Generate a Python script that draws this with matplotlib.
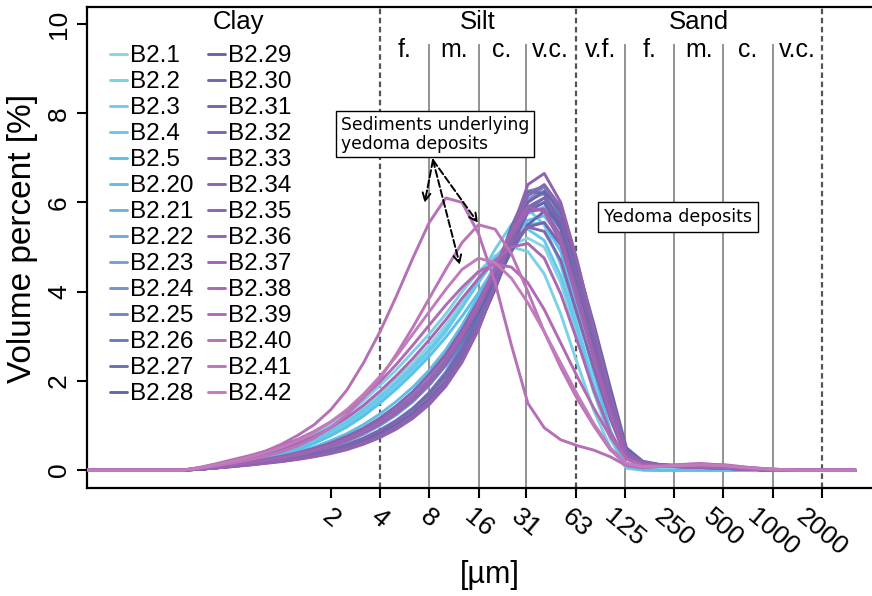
import matplotlib
matplotlib.use("Agg")
import matplotlib.pyplot as plt
import matplotlib.transforms as mtransforms

# ---------------- data ----------------
sizes_um = [0.065, 0.25, 0.315, 0.397, 0.5, 0.63, 0.794, 1.0, 1.26, 1.59, 2.0, 2.52, 3.17,
            4.0, 5.04, 6.35, 8.0, 10.1, 12.7, 16.0, 20.2, 25.4, 32.0, 40.3, 50.8, 64.0,
            80.6, 102, 128, 161, 203, 256, 362, 512, 724, 1024, 1448, 3200]

sample_names = ["B2.1", "B2.2", "B2.3", "B2.4", "B2.5", "B2.20", "B2.21", "B2.22", "B2.23",
                "B2.24", "B2.25", "B2.26", "B2.27", "B2.28", "B2.29", "B2.30", "B2.31",
                "B2.32", "B2.33", "B2.34", "B2.35", "B2.36", "B2.37", "B2.38", "B2.39",
                "B2.40", "B2.41", "B2.42"]

sample_colors = ["#88d4e3", "#7dd0e6", "#72cce8", "#66c8ea", "#58c2ea", "#66bbe6", "#72b2e0",
                 "#77a8da", "#7a9ed3", "#7792cc", "#7385c6", "#6d7bbc", "#6670b5", "#6267ae",
                 "#6a63ad", "#7163ad", "#7864ae", "#7e65ae", "#8366ae", "#8a65b0", "#9063b0",
                 "#9863b1", "#a064b2", "#aa67b3", "#b16bb5", "#b670b7", "#bb76b9", "#c07cbb"]

v_B2_1 = [0,0,0.04,0.1,0.17,0.24,0.32,0.42,0.54,0.7,0.9,1.12,1.4,1.72,2.05,2.4,2.8,3.25,3.75,4.25,4.7,5.05,5.2,5.0,4.2,3.0,1.75,0.7,0.06,0.01,0,0,0,0,0,0,0,0]
v_B2_2 = [0,0,0.05,0.12,0.2,0.28,0.37,0.48,0.62,0.8,1.0,1.25,1.55,1.9,2.25,2.65,3.05,3.5,4.0,4.45,4.8,5.0,4.9,4.4,3.5,2.4,1.35,0.5,0.04,0,0,0,0,0,0,0,0,0]
v_B2_3 = [0,0,0.04,0.09,0.15,0.22,0.3,0.39,0.5,0.64,0.82,1.02,1.27,1.57,1.9,2.25,2.65,3.1,3.65,4.3,4.95,5.5,5.85,5.5,4.6,3.3,1.95,0.8,0.08,0.01,0,0,0,0,0,0,0,0]
v_B2_4 = [0,0,0.04,0.1,0.16,0.23,0.31,0.41,0.53,0.68,0.87,1.08,1.34,1.64,1.97,2.32,2.7,3.15,3.65,4.2,4.75,5.2,5.4,5.15,4.35,3.15,1.85,0.75,0.07,0.01,0,0,0,0,0,0,0,0]
v_B2_5 = [0,0,0.03,0.08,0.14,0.2,0.27,0.36,0.46,0.6,0.77,0.97,1.21,1.5,1.82,2.17,2.55,2.98,3.45,3.98,4.55,5.1,5.5,5.55,4.9,3.6,2.2,0.9,0.1,0.01,0,0,0,0,0,0,0,0]
v_B2_20 = [0,0,0.03,0.08,0.13,0.19,0.25,0.32,0.41,0.52,0.66,0.82,1.02,1.26,1.54,1.86,2.24,2.7,3.25,3.9,4.6,5.2,5.6,5.7,5.2,4.0,2.7,1.35,0.3,0.15,0.1,0.08,0.06,0.04,0.02,0,0,0]
v_B2_21 = [0,0,0.03,0.07,0.12,0.17,0.23,0.3,0.38,0.48,0.6,0.75,0.93,1.15,1.41,1.72,2.1,2.55,3.1,3.75,4.5,5.2,5.75,5.9,5.4,4.2,2.85,1.45,0.33,0.16,0.11,0.09,0.07,0.04,0.02,0,0,0]
v_B2_22 = [0,0,0.03,0.07,0.12,0.17,0.22,0.28,0.35,0.44,0.55,0.69,0.86,1.07,1.32,1.62,1.98,2.42,2.95,3.6,4.4,5.2,5.85,6.0,5.5,4.3,2.9,1.5,0.35,0.17,0.11,0.09,0.07,0.04,0.02,0,0,0]
v_B2_23 = [0,0,0.02,0.06,0.1,0.15,0.2,0.26,0.33,0.41,0.51,0.64,0.8,1.0,1.24,1.53,1.9,2.35,2.9,3.6,4.45,5.35,6.05,6.2,5.6,4.35,2.95,1.5,0.35,0.17,0.11,0.09,0.07,0.04,0.02,0,0,0]
v_B2_24 = [0,0,0.02,0.06,0.1,0.14,0.19,0.24,0.3,0.38,0.47,0.58,0.72,0.9,1.12,1.39,1.72,2.15,2.7,3.4,4.3,5.25,6.05,6.35,5.85,4.6,3.15,1.65,0.4,0.18,0.12,0.1,0.08,0.05,0.02,0,0,0]
v_B2_25 = [0,0,0.02,0.05,0.09,0.13,0.18,0.23,0.29,0.36,0.45,0.56,0.7,0.88,1.1,1.38,1.74,2.2,2.8,3.55,4.45,5.45,6.25,6.35,5.7,4.4,2.95,1.5,0.35,0.17,0.11,0.09,0.07,0.04,0.02,0,0,0]
v_B2_26 = [0,0,0.03,0.07,0.11,0.16,0.21,0.27,0.34,0.43,0.54,0.67,0.83,1.03,1.27,1.56,1.92,2.35,2.88,3.52,4.3,5.15,5.85,6.1,5.7,4.55,3.15,1.7,0.42,0.18,0.12,0.1,0.08,0.05,0.02,0,0,0]
v_B2_27 = [0,0,0.02,0.05,0.09,0.13,0.17,0.22,0.28,0.35,0.44,0.55,0.69,0.87,1.09,1.37,1.72,2.16,2.72,3.45,4.4,5.45,6.25,6.2,5.45,4.1,2.7,1.35,0.3,0.15,0.1,0.08,0.06,0.04,0.02,0,0,0]
v_B2_28 = [0,0,0.03,0.07,0.12,0.17,0.23,0.29,0.37,0.46,0.58,0.72,0.89,1.1,1.35,1.65,2.02,2.45,2.95,3.55,4.2,4.9,5.5,5.8,5.55,4.6,3.3,1.85,0.5,0.2,0.13,0.1,0.08,0.05,0.02,0,0,0]
v_B2_29 = [0,0,0.02,0.05,0.09,0.13,0.17,0.22,0.28,0.35,0.43,0.53,0.66,0.82,1.02,1.28,1.6,2.0,2.52,3.2,4.05,5.0,5.8,6.0,5.4,4.1,2.75,1.4,0.32,0.16,0.11,0.09,0.07,0.04,0.02,0,0,0]
v_B2_30 = [0,0,0.02,0.05,0.08,0.12,0.16,0.21,0.26,0.33,0.41,0.51,0.63,0.79,0.98,1.23,1.55,1.95,2.48,3.18,4.1,5.15,6.0,6.25,5.8,4.6,3.2,1.7,0.42,0.18,0.12,0.1,0.08,0.05,0.02,0,0,0]
v_B2_31 = [0,0,0.03,0.07,0.12,0.17,0.22,0.28,0.35,0.44,0.55,0.68,0.85,1.06,1.31,1.61,1.98,2.43,2.98,3.62,4.35,5.0,5.45,5.55,5.05,3.9,2.6,1.3,0.3,0.15,0.1,0.08,0.06,0.04,0.02,0,0,0]
v_B2_32 = [0,0,0.02,0.05,0.09,0.13,0.18,0.23,0.29,0.37,0.46,0.57,0.71,0.89,1.1,1.36,1.69,2.1,2.62,3.3,4.15,5.1,5.9,6.1,5.6,4.35,2.95,1.5,0.35,0.17,0.11,0.09,0.07,0.04,0.02,0,0,0]
v_B2_33 = [0,0,0.03,0.08,0.13,0.18,0.24,0.31,0.39,0.49,0.61,0.76,0.94,1.17,1.44,1.76,2.15,2.6,3.15,3.8,4.5,5.1,5.45,5.35,4.7,3.5,2.3,1.15,0.25,0.14,0.1,0.08,0.06,0.04,0.02,0,0,0]
v_B2_34 = [0,0,0.02,0.05,0.08,0.12,0.16,0.2,0.25,0.31,0.39,0.49,0.61,0.77,0.97,1.22,1.54,1.95,2.48,3.2,4.15,5.25,6.15,6.4,5.9,4.65,3.2,1.7,0.42,0.18,0.12,0.1,0.08,0.05,0.02,0,0,0]
v_B2_35 = [0,0,0.02,0.05,0.08,0.11,0.15,0.19,0.24,0.3,0.37,0.46,0.58,0.73,0.92,1.16,1.47,1.88,2.42,3.15,4.15,5.35,6.4,6.65,6.0,4.7,3.2,1.7,0.4,0.18,0.12,0.1,0.08,0.05,0.02,0,0,0]
v_B2_36 = [0,0,0.03,0.07,0.11,0.16,0.21,0.27,0.34,0.43,0.54,0.67,0.84,1.05,1.3,1.6,1.97,2.42,2.97,3.65,4.45,5.25,5.8,5.85,5.25,4.0,2.65,1.35,0.3,0.15,0.1,0.08,0.06,0.04,0.02,0,0,0]
v_B2_37 = [0,0,0.03,0.07,0.12,0.17,0.22,0.28,0.36,0.45,0.56,0.7,0.87,1.08,1.34,1.65,2.03,2.5,3.05,3.75,4.55,5.35,5.9,5.8,5.1,3.8,2.5,1.25,0.28,0.14,0.1,0.08,0.06,0.04,0.02,0,0,0]
v_B2_38 = [0,0,0.05,0.12,0.2,0.28,0.37,0.47,0.6,0.76,0.95,1.18,1.45,1.77,2.12,2.5,2.92,3.37,3.85,4.3,4.7,5.0,5.08,4.75,3.95,2.9,1.8,0.85,0.25,0.1,0.08,0.1,0.12,0.1,0.05,0.02,0,0]
v_B2_39 = [0,0,0.06,0.14,0.23,0.32,0.42,0.54,0.69,0.87,1.08,1.33,1.63,1.98,2.37,2.8,3.25,3.7,4.1,4.45,4.62,4.55,4.2,3.6,2.85,2.1,1.4,0.75,0.25,0.1,0.1,0.12,0.14,0.12,0.06,0.02,0,0]
v_B2_40 = [0,0,0.05,0.12,0.2,0.3,0.42,0.58,0.78,1.02,1.35,1.8,2.4,3.1,3.9,4.75,5.55,6.1,6.0,5.3,4.2,2.8,1.5,0.95,0.68,0.55,0.45,0.3,0.1,0.05,0.08,0.12,0.15,0.1,0.05,0.0,0,0]
v_B2_41 = [0,0,0.04,0.1,0.16,0.23,0.31,0.41,0.54,0.72,0.95,1.25,1.62,2.05,2.6,3.2,3.85,4.5,5.1,5.5,5.4,4.85,4.0,3.1,2.3,1.6,1.0,0.45,0.15,0.08,0.08,0.1,0.12,0.1,0.05,0.02,0,0]
v_B2_42 = [0,0,0.05,0.12,0.2,0.29,0.39,0.51,0.66,0.85,1.08,1.36,1.7,2.1,2.55,3.05,3.55,4.05,4.5,4.75,4.65,4.3,3.75,3.1,2.4,1.7,1.05,0.5,0.15,0.08,0.08,0.1,0.12,0.1,0.05,0.02,0,0]

sample_values = [v_B2_1, v_B2_2, v_B2_3, v_B2_4, v_B2_5, v_B2_20, v_B2_21, v_B2_22, v_B2_23,
                 v_B2_24, v_B2_25, v_B2_26, v_B2_27, v_B2_28, v_B2_29, v_B2_30, v_B2_31,
                 v_B2_32, v_B2_33, v_B2_34, v_B2_35, v_B2_36, v_B2_37, v_B2_38, v_B2_39,
                 v_B2_40, v_B2_41, v_B2_42]

x_ticks = [2, 4, 8, 16, 31, 63, 125, 250, 500, 1000, 2000]
x_tick_labels = ["2", "4", "8", "16", "31", "63", "125", "250", "500", "1000", "2000"]
y_ticks = [0, 2, 4, 6, 8, 10]

main_bounds = [4, 63, 2000]                 # dashed class boundaries
sub_bounds = [8, 16, 31, 125, 250, 500, 1000]  # solid sub-class boundaries
main_classes = ["Clay", "Silt", "Sand"]
main_class_x = [0.55, 15.9, 355]
silt_sub = ["f.", "m.", "c.", "v.c."]
silt_sub_x = [5.66, 11.3, 22.3, 44.2]
sand_sub = ["v.f.", "f.", "m.", "c.", "v.c."]
sand_sub_x = [88.7, 177, 354, 707, 1414]

# ---------------- figure ----------------
SANS = ["Liberation Sans", "DejaVu Sans"]
plt.rcParams['font.family'] = SANS

W, H = 872, 596
fig = plt.figure(figsize=(W / 100, H / 100), dpi=100)
ax = fig.add_axes([87 / W, (H - 488) / H, (876 - 87) / W, (488 - 7) / H])

ax.set_xscale('log', base=2)
ax.set_xlim(2 ** -3.94, 2 ** 12.06)
ax.set_ylim(-0.4, 10.38)

for name, col, vals in zip(sample_names, sample_colors, sample_values):
    ax.plot(sizes_um, vals, color=col, lw=2.1, label=name, solid_capstyle='round',
            solid_joinstyle='round', zorder=3)

# class boundaries
for b in main_bounds:
    ax.axvline(b, color='#555555', lw=1.6, ls=(0, (2.5, 1.6)), zorder=2)
for b in sub_bounds:
    ax.axvline(b, ymin=0, ymax=0.921, color='#8a8a8a', lw=1.3, zorder=1)

trans = mtransforms.blended_transform_factory(ax.transData, ax.transAxes)
for lab, xv in zip(main_classes, main_class_x):
    ax.text(xv, 0.969, lab, transform=trans, ha='center', va='center', fontsize=18.5)
for lab, xv in zip(silt_sub + sand_sub, silt_sub_x + sand_sub_x):
    ax.text(xv, 0.911, lab, transform=trans, ha='center', va='center', fontsize=18)

# annotations
ax.text(2.31, 7.53, "Sediments underlying\nyedoma deposits", ha='left', va='center',
        fontsize=12.3, family='DejaVu Sans', linespacing=1.05, zorder=5,
        bbox=dict(boxstyle='square,pad=0.28', fc='white', ec='black', lw=1.0))
origin = (8.43, 6.95)
targets = [(7.5, 5.99), (15.9, 5.54), (12.3, 4.6)]
for t in targets:
    ax.annotate('', xy=t, xytext=origin,
                arrowprops=dict(arrowstyle='->', ls='--', lw=1.4, color='black',
                                shrinkA=0, shrinkB=0, mutation_scale=14), zorder=6)
ax.text(93.3, 5.67, "Yedoma deposits", ha='left', va='center', fontsize=12.5,
        family='DejaVu Sans', zorder=5,
        bbox=dict(boxstyle='square,pad=0.35', fc='white', ec='black', lw=1.0))

# axes styling
for s in ax.spines.values():
    s.set_linewidth(1.6)
ax.set_xticks(x_ticks)
ax.set_xticklabels(x_tick_labels, rotation=-40, ha='center', va='top', fontsize=19)
ax.minorticks_off()
ax.set_yticks(y_ticks)
ax.set_yticklabels([str(v) for v in y_ticks], rotation=90, va='center', fontsize=19)
ax.tick_params(axis='both', direction='out', length=7.5, width=1.5, pad=4)

fig.text(490 / W, 1 - 575 / H, "[µm]", ha='center', va='center', fontsize=22)
fig.text(23 / W, 1 - 238 / H, "Volume percent [%]", ha='center', va='center',
         rotation=90, fontsize=24)

leg = ax.legend(ncol=2, loc='upper left', bbox_to_anchor=(110 / W, 1 - 45 / H),
                bbox_transform=fig.transFigure, frameon=False, fontsize=17.5,
                handlelength=0.7, handletextpad=0.12, columnspacing=0.6,
                labelspacing=0.165, borderpad=0, borderaxespad=0)

fig.savefig("out.png", dpi=100)
